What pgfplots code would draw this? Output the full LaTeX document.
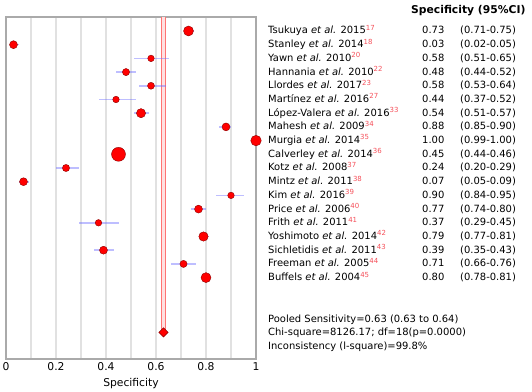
\documentclass[border=0pt]{standalone}
\usepackage{pgfplots}
\pgfplotsset{compat=1.18}
\usepackage{pgfplotstable}
\usepackage{fontspec}
\setmainfont{DejaVu Sans}
\definecolor{supred}{RGB}{245,80,90}
\definecolor{cibar}{RGB}{110,110,255}
\definecolor{gridc}{RGB}{225,225,225}
\definecolor{framec}{RGB}{170,170,170}
\definecolor{mkborder}{RGB}{140,0,0}
\newcommand{\fs}{\fontsize{10.8}{13}\selectfont}
\newcommand{\refn}[1]{\textsuperscript{\textcolor{supred}{#1}}}
\newcommand{\ea}{\textit{et al.}}
\newcommand{\frow}[4]{%
  \node[anchor=base west,inner sep=0pt,yshift=-3bp] at (axis cs:1.048,#1) {#2};
  \node[anchor=base west,inner sep=0pt,yshift=-3bp] at (axis cs:1.664,#1) {#3};
  \node[anchor=base west,inner sep=0pt,yshift=-3bp] at (axis cs:1.816,#1) {#4};}
\pgfplotstableread{
y est lo hi r
0 0.73 0.71 0.75 5
1 0.03 0.02 0.05 4
2 0.58 0.51 0.65 3.3
3 0.48 0.44 0.52 3.6
4 0.58 0.53 0.64 3.5
5 0.44 0.37 0.52 3.3
6 0.54 0.51 0.57 4.6
7 0.88 0.85 0.90 4
8 1.00 0.99 1.00 5.3
9 0.45 0.44 0.46 7
10 0.24 0.20 0.29 3.6
11 0.07 0.05 0.09 4
12 0.90 0.84 0.95 3.3
13 0.77 0.74 0.80 4
14 0.37 0.29 0.45 3.3
15 0.79 0.77 0.81 4.7
16 0.39 0.35 0.43 4
17 0.71 0.66 0.76 3.6
18 0.80 0.78 0.81 5
}\studies
\pgfplotstableread{
x y
0.63 22
}\pooled
\begin{document}
\begin{tikzpicture}
\useasboundingbox (-6bp,-33bp) rectangle (526bp,359bp);
\begin{axis}[
  at={(0,0)}, anchor=south west,
  scale only axis, width=250bp, height=342bp,
  xmin=0, xmax=1, ymin=-1.02, ymax=23.94, y dir=reverse,
  clip=false,
  ytick=\empty,
  xtick={0,0.2,0.4,0.6,0.8,1},
  xticklabels={0,0.2,0.4,0.6,0.8,1},
  minor xtick={0.1,0.3,0.5,0.7,0.9},
  xmajorgrids, xminorgrids,
  major grid style={gridc, line width=1.2bp},
  minor grid style={gridc, line width=1.2bp},
  tick style={draw=none},
  axis line style={framec, line width=1.5bp},
  ticklabel style={font=\fs, text=black},
  label style={font=\fs, text=black},
  xlabel={Specificity},
  xlabel style={yshift=-1bp},
  every node/.append style={font=\fs},
]
% pooled band
\addplot[fill=red!12, draw=none] coordinates {(0.623,-1.02) (0.636,-1.02) (0.636,22) (0.623,22)};
\addplot[red!55, line width=0.8bp] coordinates {(0.623,-1.02) (0.623,22)};
\addplot[red!55, line width=0.8bp] coordinates {(0.636,-1.02) (0.636,22)};
% study markers
\addplot[scatter, only marks, mark=*,
  scatter/use mapped color={fill=red, draw=mkborder},
  visualization depends on={\thisrow{r} \as \perpointmarksize},
  scatter/@pre marker code/.append style={/tikz/mark size=\perpointmarksize}]
  table[x=est, y=y] {\studies};
% CI bars
\addplot[draw=none, mark=none,
  error bars/.cd, x dir=both, x explicit,
  error mark=none,
  error bar style={draw=cibar, opacity=0.45, line width=1.6bp}]
  table[x=est, y=y,
        x error plus expr=\thisrow{hi}-\thisrow{est},
        x error minus expr=\thisrow{est}-\thisrow{lo}] {\studies};
% pooled diamond
\addplot[only marks, mark=square*, mark size=3.3bp,
  mark options={rotate=45, fill=red, draw=mkborder, line width=0.5bp}]
  table[x=x, y=y] {\pooled};
% header
\node[anchor=base west,inner sep=0pt,font=\fs\bfseries] at (axis cs:1.62,-1.31) {Specificity (95\%CI)};
\frow{0}{Tsukuya \ea{} 2015\refn{17}}{0.73}{(0.71-0.75)}
\frow{1}{Stanley \ea{} 2014\refn{18}}{0.03}{(0.02-0.05)}
\frow{2}{Yawn \ea{} 2010\refn{20}}{0.58}{(0.51-0.65)}
\frow{3}{Hannania \ea{} 2010\refn{22}}{0.48}{(0.44-0.52)}
\frow{4}{Llordes \ea{} 2017\refn{23}}{0.58}{(0.53-0.64)}
\frow{5}{Martínez \ea{} 2016\refn{27}}{0.44}{(0.37-0.52)}
\frow{6}{López-Valera \ea{} 2016\refn{33}}{0.54}{(0.51-0.57)}
\frow{7}{Mahesh \ea{} 2009\refn{34}}{0.88}{(0.85-0.90)}
\frow{8}{Murgia \ea{} 2014\refn{35}}{1.00}{(0.99-1.00)}
\frow{9}{Calverley \ea{} 2014\refn{36}}{0.45}{(0.44-0.46)}
\frow{10}{Kotz \ea{} 2008\refn{37}}{0.24}{(0.20-0.29)}
\frow{11}{Mintz \ea{} 2011\refn{38}}{0.07}{(0.05-0.09)}
\frow{12}{Kim \ea{} 2016\refn{39}}{0.90}{(0.84-0.95)}
\frow{13}{Price \ea{} 2006\refn{40}}{0.77}{(0.74-0.80)}
\frow{14}{Frith \ea{} 2011\refn{41}}{0.37}{(0.29-0.45)}
\frow{15}{Yoshimoto \ea{} 2014\refn{42}}{0.79}{(0.77-0.81)}
\frow{16}{Sichletidis \ea{} 2011\refn{43}}{0.39}{(0.35-0.43)}
\frow{17}{Freeman \ea{} 2005\refn{44}}{0.71}{(0.66-0.76)}
\frow{18}{Buffels \ea{} 2004\refn{45}}{0.80}{(0.78-0.81)}
\node[anchor=base west,inner sep=0pt] at (axis cs:1.048,21.26) {Pooled Sensitivity=0.63 (0.63 to 0.64)};
\node[anchor=base west,inner sep=0pt] at (axis cs:1.048,22.24) {Chi-square=8126.17; df=18(p=0.0000)};
\node[anchor=base west,inner sep=0pt] at (axis cs:1.048,23.21) {Inconsistency (l-square)=99.8\%};
\end{axis}
\end{tikzpicture}
\end{document}
